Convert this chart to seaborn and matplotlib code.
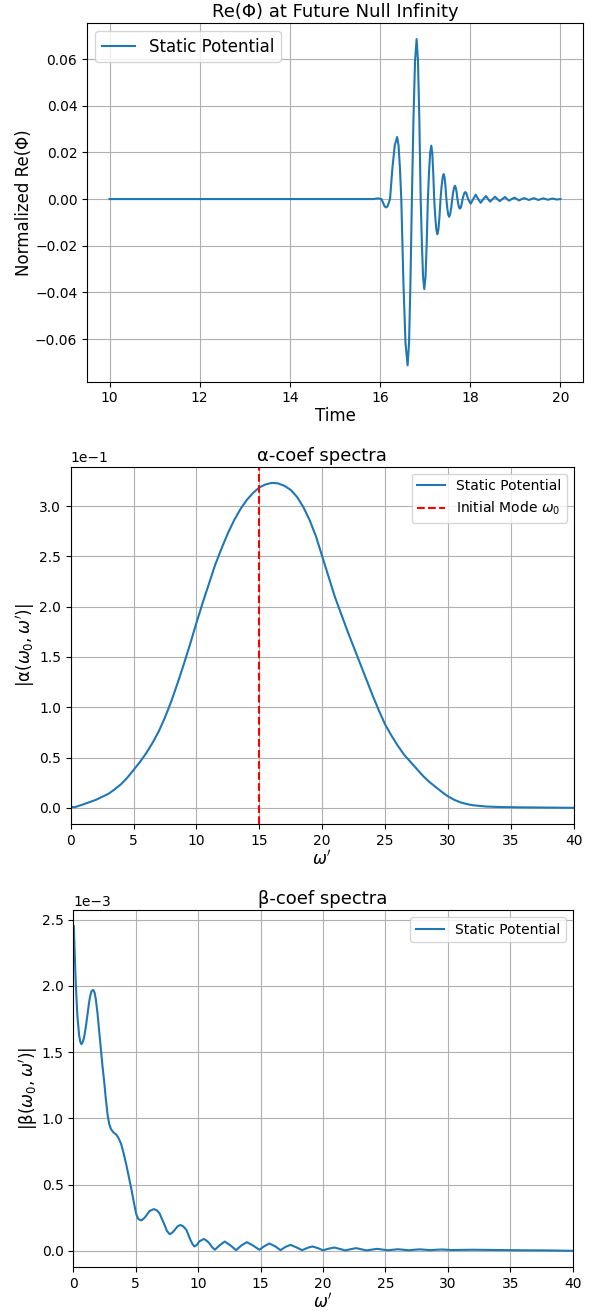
import matplotlib
matplotlib.use("Agg")
import matplotlib.pyplot as plt
import seaborn as sns

# --- Re(Phi) at future null infinity: time samples and normalized field values ---
time_vals = [10.0, 15.85, 15.95, 16.03, 16.07, 16.10, 16.134, 16.165, 16.19, 16.22,
             16.273, 16.325, 16.378, 16.409, 16.44, 16.47,
             16.517, 16.563, 16.61, 16.642, 16.673, 16.705,
             16.74, 16.775, 16.81, 16.84, 16.87, 16.90,
             16.927, 16.953, 16.98, 17.007, 17.033, 17.06,
             17.085, 17.11, 17.135, 17.157, 17.178, 17.20,
             17.223, 17.247, 17.27, 17.293, 17.317, 17.34,
             17.363, 17.387, 17.41, 17.43, 17.45, 17.47,
             17.49, 17.51, 17.53, 17.553, 17.577, 17.60,
             17.62, 17.64, 17.66, 17.678, 17.697, 17.715,
             17.733, 17.752, 17.77, 17.79, 17.81, 17.83,
             17.85, 17.87, 17.89, 17.91, 17.93, 17.95,
             18.01, 18.065, 18.12, 18.175, 18.23, 18.29, 18.35, 18.395, 18.44, 18.495,
             18.55, 18.60, 18.65, 18.71, 18.77, 18.815, 18.86, 18.92, 18.98, 19.03,
             19.08, 19.14, 19.20, 19.25, 19.30, 19.355, 19.41, 19.46, 19.51, 19.565,
             19.62, 19.67, 19.72, 19.775, 19.83, 19.875, 19.92, 20.0]
phi_vals = [0.0, 0.0, 0.0003, 0.0, -0.0018, -0.0031, -0.0036, -0.0031, -0.0018, 0.0,
            0.0133, 0.0230, 0.0266, 0.0230, 0.0133, 0.0,
            -0.0357, -0.0617, -0.0713, -0.0617, -0.0357, 0.0,
            0.0343, 0.0594, 0.0686, 0.0594, 0.0343, 0.0,
            -0.0193, -0.0334, -0.0386, -0.0334, -0.0193, 0.0,
            0.0115, 0.0198, 0.0229, 0.0198, 0.0115, 0.0,
            -0.0076, -0.0131, -0.0151, -0.0131, -0.0076, 0.0,
            0.0054, 0.0093, 0.0107, 0.0093, 0.0054, 0.0,
            -0.0038, -0.0066, -0.0076, -0.0066, -0.0038, 0.0,
            0.0029, 0.0049, 0.0057, 0.0049, 0.0029, 0.0,
            -0.0021, -0.0036, -0.0041, -0.0036, -0.0021, 0.0,
            0.0015, 0.0026, 0.0030, 0.0026, 0.0015, 0.0,
            -0.0020, 0.0, 0.0019, 0.0, -0.0016, 0.0, 0.0013, 0.0, -0.0011, 0.0,
            0.0010, 0.0, -0.0009, 0.0, 0.0009, 0.0, -0.0007, 0.0, 0.0006, 0.0,
            -0.0006, 0.0, 0.0004, 0.0, -0.0004, 0.0, 0.0004, 0.0, -0.0004, 0.0,
            0.0003, 0.0, -0.0003, 0.0, 0.0002, 0.0, -0.0002, 0.0]

# --- alpha-coefficient spectrum ---
omega_alpha = [0, 0.3, 1, 2, 2.5, 3, 3.5, 4, 4.5, 5, 5.5, 6, 6.5, 7, 7.5, 8, 8.5, 9,
               9.5, 10, 10.5, 11, 11.5, 12, 12.5, 13, 13.5, 14, 14.5, 15, 15.5, 16,
               16.5, 17, 17.5, 18, 18.5, 19, 19.5, 20, 20.5, 21, 21.5, 22, 22.5, 23,
               23.5, 24, 24.5, 25, 25.5, 26, 26.5, 27, 27.5, 28, 28.5, 29, 29.5, 30,
               30.5, 31, 31.5, 32, 33, 34, 35, 36, 37, 38, 39, 40]
alpha_vals = [0.012, 0.006, 0.035, 0.080, 0.110, 0.140, 0.185, 0.235, 0.300, 0.377,
              0.455, 0.543, 0.645, 0.760, 0.900, 1.060, 1.240, 1.430, 1.630, 1.840,
              2.040, 2.230, 2.420, 2.580, 2.730, 2.860, 2.970, 3.060, 3.130, 3.185,
              3.215, 3.230, 3.225, 3.200, 3.160, 3.090, 2.990, 2.860, 2.700, 2.500,
              2.300, 2.100, 1.930, 1.760, 1.600, 1.440, 1.280, 1.120, 0.970, 0.830,
              0.720, 0.620, 0.530, 0.460, 0.390, 0.320, 0.260, 0.210, 0.160, 0.115,
              0.080, 0.055, 0.038, 0.026, 0.014, 0.009, 0.007, 0.005, 0.004, 0.003,
              0.002, 0.001]
alpha_vals = [v * 1e-1 for v in alpha_vals]
omega_initial = 15

# --- beta-coefficient spectrum ---
omega_beta = [0.04, 0.10, 0.19, 0.32, 0.46, 0.55, 0.65, 0.75, 0.86, 1.00,
              1.13, 1.24, 1.34, 1.46, 1.59, 1.70, 1.80, 1.94, 2.07, 2.20,
              2.33, 2.47, 2.60, 2.74, 2.87, 3.01, 3.20, 3.41, 3.60, 3.82,
              4.02, 4.22, 4.42, 4.62, 4.82, 5.03, 5.20, 5.43, 5.60, 5.78,
              6.10, 6.45, 6.70, 6.91, 7.10, 7.31, 7.50, 7.72, 7.90, 8.12,
              8.35, 8.58, 8.80, 9.06, 9.22, 9.38, 9.55, 9.70, 9.90, 10.08,
              10.46, 10.70, 10.89, 11.10, 11.34, 11.70, 12.12, 12.60, 13.04, 13.45,
              13.90, 14.40, 14.90, 15.30, 15.70, 16.15, 16.60, 17.00, 17.40, 17.85,
              18.33, 18.75, 19.15, 19.60, 20.00, 20.45, 20.90, 21.35, 21.80, 22.20,
              22.65, 23.10, 23.50, 23.90, 24.35, 24.80, 25.20, 25.60, 26.00, 26.45,
              26.90, 27.30, 27.75, 28.20, 28.60, 29.05, 29.50, 29.90, 30.30, 32.00,
              34.00, 36.00, 38.00, 40.00]
beta_vals = [2.45, 2.28, 2.03, 1.78, 1.63, 1.58, 1.56, 1.575, 1.61, 1.69,
             1.78, 1.86, 1.92, 1.96, 1.97, 1.95, 1.90, 1.79, 1.66, 1.53,
             1.40, 1.28, 1.15, 1.03, 0.96, 0.92, 0.895, 0.88, 0.855, 0.81,
             0.74, 0.66, 0.57, 0.48, 0.38, 0.28, 0.24, 0.23, 0.24, 0.2575,
             0.30, 0.315, 0.305, 0.2825, 0.24, 0.195, 0.15, 0.125, 0.135, 0.1575,
             0.185, 0.195, 0.185, 0.1575, 0.12, 0.0825, 0.05, 0.033, 0.045, 0.07,
             0.09, 0.075, 0.0575, 0.03, 0.008, 0.04, 0.07, 0.04, 0.005, 0.04,
             0.065, 0.04, 0.008, 0.035, 0.055, 0.035, 0.005, 0.03, 0.045, 0.027,
             0.005, 0.022, 0.033, 0.02, 0.004, 0.016, 0.025, 0.014, 0.003, 0.012,
             0.020, 0.011, 0.003, 0.009, 0.015, 0.009, 0.004, 0.008, 0.012, 0.008,
             0.004, 0.008, 0.011, 0.008, 0.005, 0.008, 0.010, 0.008, 0.006, 0.008,
             0.006, 0.004, 0.003, 0.0]
beta_vals = [v * 1e-3 for v in beta_vals]

blue = "#1f77b4"
TITLE_FS = 13
LABEL_FS = 12
LABEL_PAD = 1.5
TITLE_PAD = 4

fig = plt.figure(figsize=(6.08, 13.13), dpi=100)
ax1 = fig.add_axes([0.1431, 0.7093, 0.8158, 0.2734])
ax2 = fig.add_axes([0.1163, 0.3724, 0.8273, 0.2722])
ax3 = fig.add_axes([0.1206, 0.0350, 0.8213, 0.2719])

# Field at scri+
sns.lineplot(x=time_vals, y=phi_vals, ax=ax1, color=blue, linewidth=1.5,
             label="Static Potential", sort=False)
ax1.set_title("Re(Φ) at Future Null Infinity", fontsize=TITLE_FS, pad=TITLE_PAD)
ax1.set_xlabel("Time", fontsize=LABEL_FS, labelpad=LABEL_PAD)
ax1.set_ylabel("Normalized Re(Φ)", fontsize=LABEL_FS, labelpad=LABEL_PAD)
ax1.set_xticks([10, 12, 14, 16, 18, 20])
ax1.set_yticks([-0.06, -0.04, -0.02, 0.0, 0.02, 0.04, 0.06])
ax1.grid(True)
ax1.legend(loc="upper left", fontsize=12)

# alpha spectrum
sns.lineplot(x=omega_alpha, y=alpha_vals, ax=ax2, color=blue, linewidth=1.5,
             label="Static Potential", sort=False)
ax2.axvline(omega_initial, color="red", linestyle="--", linewidth=1.5,
            label=r"Initial Mode $\omega_0$")
ax2.set_xlim(0, 40)
ax2.set_title("α-coef spectra", fontsize=TITLE_FS, pad=TITLE_PAD)
ax2.set_xlabel(r"$\omega'$", fontsize=LABEL_FS, labelpad=LABEL_PAD)
ax2.set_ylabel(r"|α($\omega_0,\omega'$)|", fontsize=LABEL_FS, labelpad=LABEL_PAD)
ax2.ticklabel_format(axis="y", style="sci", scilimits=(0, 0))
ax2.grid(True)
ax2.legend(loc="upper right")

# beta spectrum
sns.lineplot(x=omega_beta, y=beta_vals, ax=ax3, color=blue, linewidth=1.5,
             label="Static Potential", sort=False)
ax3.set_xlim(0, 40)
ax3.set_title("β-coef spectra", fontsize=TITLE_FS, pad=TITLE_PAD)
ax3.set_xlabel(r"$\omega'$", fontsize=LABEL_FS, labelpad=LABEL_PAD)
ax3.set_ylabel(r"|β($\omega_0,\omega'$)|", fontsize=LABEL_FS, labelpad=LABEL_PAD)
ax3.ticklabel_format(axis="y", style="sci", scilimits=(0, 0))
ax3.grid(True)
ax3.legend(loc="upper right")

fig.savefig("out.png", dpi=100)
